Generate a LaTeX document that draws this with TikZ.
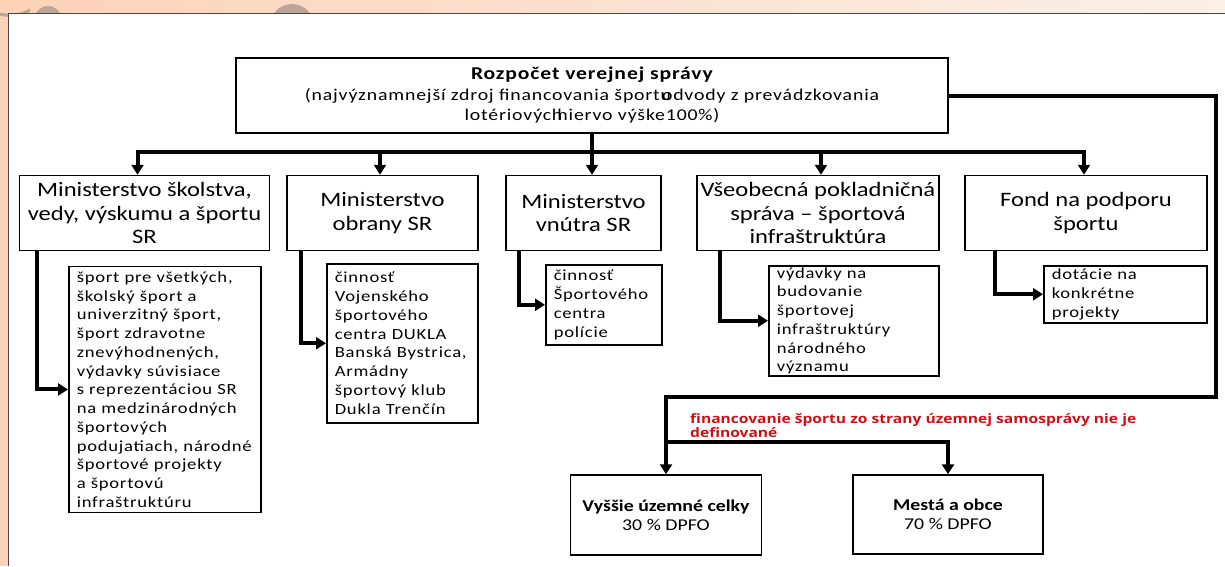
\documentclass[tikz,border=0pt]{standalone}
\usepackage{fontspec}
\setmainfont{Carlito}[FakeStretch=1.2]
\newfontfamily\espace{Carlito}[FakeStretch=1.2,LetterSpace=5]
\newfontfamily\rougefont{Open Sans}[FakeStretch=1.2]
\usetikzlibrary{arrows.meta}
\definecolor{peche}{RGB}{253,210,182}
\definecolor{pechepale}{RGB}{250,240,232}
\definecolor{taupe}{RGB}{188,164,150}
\definecolor{rouge}{RGB}{204,16,22}
\definecolor{cadre}{RGB}{70,70,70}

\begin{document}
\begin{tikzpicture}[x=1pt,y=-1pt]
\tikzset{boite/.style={draw, line width=1.5pt, inner sep=0pt, align=center},
  ministere/.style={boite, minimum height=75, font=\fontsize{20.5}{23.5}\selectfont},
  sousboite/.style={draw, line width=1.5pt, anchor=north west, align=left,
    inner xsep=8pt, inner ysep=0pt, font=\espace\fontsize{15.5}{18.75}\selectfont},
  ligne/.style={line width=4pt},
  fleche/.style={line width=4pt, -{Triangle[length=10pt,width=12pt]}}}
\useasboundingbox (0,0) rectangle (1225,566);
% fond
\shade[left color=peche, right color=pechepale] (0,0) rectangle (1225,13);
\fill[peche] (0,0) rectangle (8,566);
\fill[taupe] (48,20) circle (14);
\fill[taupe] (292,26) circle (22);
\draw[taupe, line width=3pt] (-10,10) arc (120:60:40);
\fill[white] (8,13) rectangle (1225,566);
\draw[cadre, line width=1pt] (1225,13) -- (8,13) -- (8,566);
% budget
\node[boite, minimum width=712, minimum height=75,
  font=\espace\fontsize{16.5}{20.5}\selectfont] (R) at (592,95.5)
  {{\fontsize{18}{20.5}\selectfont\bfseries Rozpočet verejnej správy}\\
   (najvýznamnejší zdroj financovania športu\kern-0.55em odvody z prevádzkovania\\
   lotériových\kern-0.3em hiervo výške100\%)};
% ministerstva
\node[ministere, minimum width=250] (M1) at (144.5,213)
  {Ministerstvo školstva,\\ vedy, výskumu a športu\\ SR};
\node[ministere, minimum width=191] (M2) at (382.5,213)
  {Ministerstvo\\ obrany SR};
\node[ministere, minimum width=155] (M3) at (583.5,213)
  {Ministerstvo\\ vnútra SR};
\node[ministere, minimum width=242] (M4) at (818,213)
  {Všeobecná pokladničná\\ správa – športová\\ infraštruktúra};
\node[ministere, minimum width=242] (M5) at (1086,213)
  {Fond na podporu\\ športu};
% cinnosti
\node[sousboite, text width=176, minimum height=246] (S1) at (68,265.7)
  {šport pre všetkých,\\ školský šport a\\ univerzitný šport,\\ šport zdravotne\\ znevýhodnených,\\
   výdavky súvisiace\\ s reprezentáciou SR\\ na medzinárodných\\ športových\\ podujatiach, národné\\
   športové projekty\\ a športovú\\ infraštruktúru};
\node[sousboite, text width=135, minimum height=159] (S2) at (326,263)
  {činnosť\\ Vojenského\\ športového\\ centra DUKLA\\ Banská Bystrica,\\ Armádny\\ športový klub\\ Dukla Trenčín};
\node[sousboite, text width=100, minimum height=80] (S3) at (545,264)
  {činnosť\\ Športového\\ centra\\ polície};
\node[sousboite, text width=154, minimum height=110] (S4) at (768,265)
  {výdavky na\\ budovanie\\ športovej\\ infraštruktúry\\ národného\\ významu};
\node[sousboite, text width=147, minimum height=57] (S5) at (1043,265)
  {dotácie na\\ konkrétne\\ projekty};
% samosprava
\node[anchor=north west, align=left, inner sep=0pt, text=rouge,
  font=\rougefont\bfseries\fontsize{13}{14.5}\selectfont] (T) at (690,413)
  {financovanie športu zo strany územnej samosprávy nie je\\ definované};
\node[boite, minimum width=191, minimum height=80, font=\fontsize{16.5}{19}\selectfont] (B1) at (666,515)
  {\textbf{Vyššie územné celky}\\ 30 \% DPFO};
\node[boite, minimum width=190, minimum height=79, font=\fontsize{16.5}{19}\selectfont] (B2) at (948,514.5)
  {\textbf{Mestá a obce}\\ 70 \% DPFO};
% spojenia
\coordinate (J) at (592,152);
\draw[ligne] (R.south) -- (J);
\draw[fleche] (J) -| ([xshift=-7]M1.north);
\draw[fleche] (J) -| ([xshift=-2.5]M2.north);
\draw[fleche] (J) -- ([xshift=8.5]M3.north);
\draw[fleche] (J) -| ([xshift=3]M4.north);
\draw[fleche] (J) -| ([xshift=-2]M5.north);
\draw[fleche] ([xshift=18]M1.south west) |- (S1.west);
\draw[fleche] ([xshift=15]M2.south west) |- (S2.west);
\draw[fleche] ([xshift=14]M3.south west) |- (S3.west);
\draw[fleche] ([xshift=24]M4.south west) |- (S4.west);
\draw[fleche] ([xshift=31]M5.south west) |- (S5.west);
\coordinate (D1) at (1216,397);
\coordinate (D2) at (666,397);
\coordinate (D3) at (666,442);
\draw[fleche] (R.east) -| (D1) -- (D2) -- (B1.north);
\draw[fleche] (D3) -| (B2.north);
\end{tikzpicture}
\end{document}
